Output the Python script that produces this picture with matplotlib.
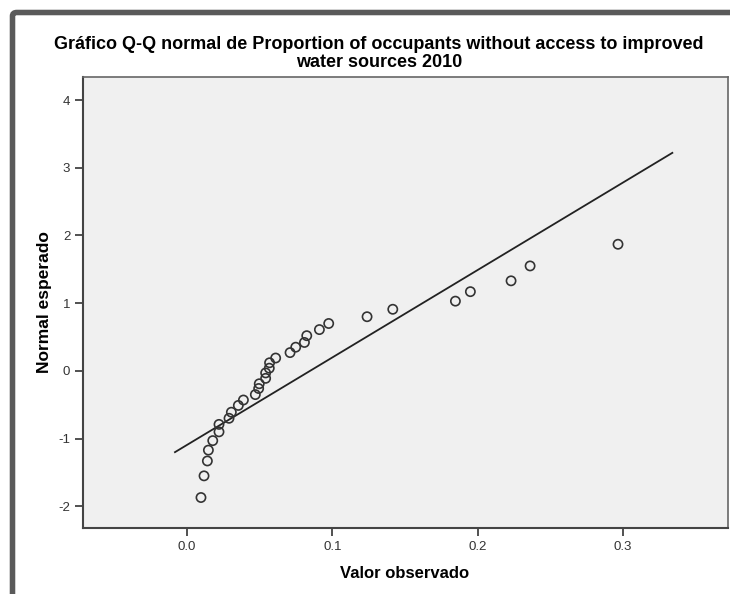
import matplotlib
matplotlib.use("Agg")
import matplotlib.pyplot as plt
from matplotlib.patches import FancyBboxPatch

observed = [0.0096, 0.0117, 0.0140, 0.0147, 0.0177, 0.0220, 0.0220, 0.0289,
            0.0305, 0.0353, 0.0388, 0.0470, 0.0493, 0.0497, 0.0541, 0.0541,
            0.0566, 0.0568, 0.0610, 0.0709, 0.0748, 0.0808, 0.0824, 0.0911,
            0.0975, 0.1239, 0.1416, 0.1847, 0.1950, 0.2230, 0.2361, 0.2966]
expected = [-1.87, -1.55, -1.33, -1.17, -1.03, -0.90, -0.79, -0.70,
            -0.61, -0.51, -0.43, -0.35, -0.26, -0.19, -0.11, -0.03,
            0.04, 0.12, 0.19, 0.27, 0.35, 0.42, 0.52, 0.61,
            0.70, 0.80, 0.91, 1.03, 1.17, 1.33, 1.55, 1.87]

# Reference line endpoints
line_x = [-0.0083, 0.334]
line_y = [-1.20, 3.22]

xticks = [0.0, 0.1, 0.2, 0.3]
xtick_labels = ["0.0", "0.1", "0.2", "0.3"]
yticks = [-2, -1, 0, 1, 2, 3, 4]
ytick_labels = ["-2", "-1", "0", "1", "2", "3", "4"]

title = "Gráfico Q-Q normal de Proportion of occupants without access to improved\nwater sources 2010"
xlabel = "Valor observado"
ylabel = "Normal esperado"

plt.rcParams['font.family'] = ['Liberation Sans', 'DejaVu Sans']

W, H = 730, 594
fig = plt.figure(figsize=(W / 100, H / 100), dpi=100)
fig.patch.set_facecolor("white")

# Outer dark frame (extends past the right and bottom edges)
frame = FancyBboxPatch((12.5 / W, -20 / H), (W + 30) / W, (H - 12.5 + 20) / H,
                       boxstyle="round,pad=0,rounding_size=0.006",
                       transform=fig.transFigure, facecolor="none",
                       edgecolor="#5a5a5a", linewidth=4, clip_on=False)
fig.patches.append(frame)

left, right, top, bottom = 82.7, 728, 77, 528
ax = fig.add_axes([left / W, 1 - bottom / H, (right - left) / W, (bottom - top) / H])
ax.set_facecolor("#f0f0f0")

ax.plot(line_x, line_y, color="#222222", linewidth=1.3, zorder=2)
ax.scatter(observed, expected, s=44, facecolors="none", edgecolors="#333333",
           linewidths=1.2, zorder=3)

ax.set_xlim(-0.0718, 0.3723)
ax.set_ylim(-2.32, 4.34)
ax.set_xticks(xticks)
ax.set_xticklabels(xtick_labels)
ax.set_yticks(yticks)
ax.set_yticklabels(ytick_labels)
ax.tick_params(direction="out", length=6, width=1.2, color="#333333",
               labelsize=9.5, labelcolor="#333333", pad=3)

for s in ["left", "bottom"]:
    ax.spines[s].set_color("#444444")
    ax.spines[s].set_linewidth(1.5)
for s in ["top", "right"]:
    ax.spines[s].set_color("#666666")
    ax.spines[s].set_linewidth(1.2)

fig.text(379 / W, 1 - 53.5 / H, title, ha="center", va="center",
         fontsize=13, fontweight="bold", linespacing=1.05)
fig.text(405 / W, 1 - 574 / H, xlabel, ha="center", va="center",
         fontsize=12, fontweight="bold")
fig.text(45 / W, 1 - 302 / H, ylabel, ha="center", va="center",
         fontsize=12.5, fontweight="bold", rotation=90)

fig.savefig("out.png", dpi=100, facecolor="white")
